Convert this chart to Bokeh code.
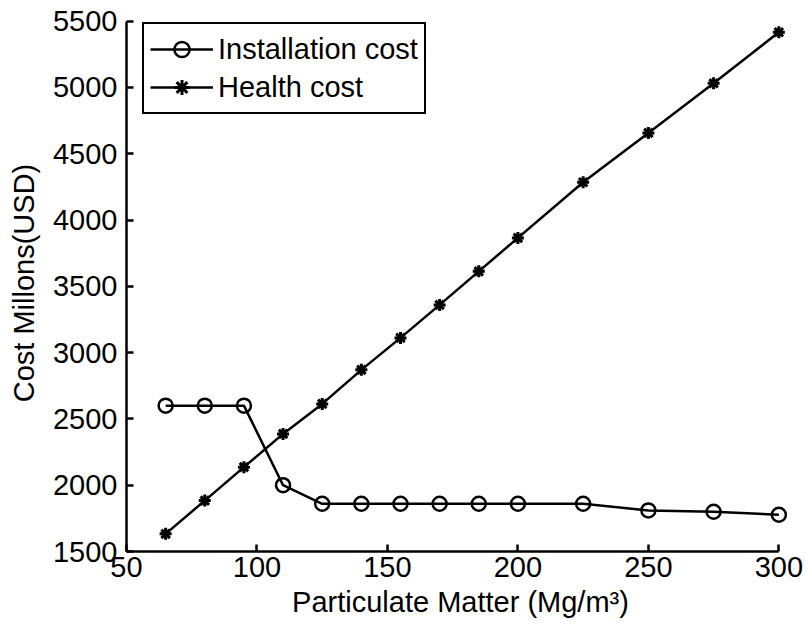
from bokeh.plotting import figure
from bokeh.models import Range1d, FixedTicker, Legend, LegendItem
from bokeh.embed import file_html
from bokeh.resources import INLINE

pm = [65, 80, 95, 110, 125, 140, 155, 170, 185, 200, 225, 250, 275, 300]
installation_cost = [2600, 2600, 2600, 2000, 1860, 1860, 1860, 1860, 1860, 1860, 1860, 1810, 1800, 1777]
health_cost = [1633, 1884, 2136, 2387, 2613, 2870, 3111, 3360, 3613, 3865, 4285, 4657, 5031, 5416]
x_ticks = [50, 100, 150, 200, 250, 300]
y_ticks = [1500, 2000, 2500, 3000, 3500, 4000, 4500, 5000, 5500]

FONT = "Liberation Sans"
FS = "29px"

p = figure(width=806, height=639, output_backend="svg", toolbar_location=None,
           x_range=Range1d(50, 306), y_range=Range1d(1500, 5550),
           min_border_left=126, min_border_right=12, min_border_top=14, min_border_bottom=88)
p.outline_line_color = None
p.xgrid.visible = False
p.ygrid.visible = False
p.background_fill_color = "white"
p.border_fill_color = "white"

for ax, ticks, lab in ((p.xaxis[0], x_ticks, "Particulate Matter (Mg/m\u00b3)"),
                       (p.yaxis[0], y_ticks, "Cost Millons(USD)")):
    ax.ticker = FixedTicker(ticks=ticks)
    ax.bounds = (ticks[0], ticks[-1])
    ax.axis_label = lab
    ax.axis_label_text_font = FONT
    ax.axis_label_text_font_size = FS
    ax.axis_label_text_font_style = "normal"
    ax.axis_label_text_color = "black"
    ax.major_label_text_font = FONT
    ax.major_label_text_font_size = FS
    ax.major_label_text_color = "black"
    ax.axis_line_width = 2.5
    ax.axis_line_color = "black"
    ax.major_tick_in = 7
    ax.major_tick_out = 0
    ax.major_tick_line_width = 2.5
    ax.major_tick_line_color = "black"
    ax.minor_tick_line_color = None

p.xaxis[0].major_label_standoff = 5
p.xaxis[0].axis_label_standoff = 6
p.yaxis[0].major_label_standoff = 9
p.yaxis[0].axis_label_standoff = 10

l1 = p.line(pm, installation_cost, line_color="black", line_width=2.5)
m1 = p.scatter(pm, installation_cost, marker="circle", size=14, fill_color=None,
               line_color="black", line_width=2.5)
l2 = p.line(pm, health_cost, line_color="black", line_width=2.5)
m2 = p.scatter(pm, health_cost, marker="asterisk", size=12, line_color="black", line_width=3)

legend = Legend(items=[LegendItem(label="Installation cost", renderers=[l1, m1]),
                       LegendItem(label="Health cost", renderers=[l2, m2])],
                location=(16, 437), orientation="vertical",
                label_text_font=FONT, label_text_font_size=FS, label_text_color="black",
                border_line_color="black", border_line_width=2.5, border_line_alpha=1,
                background_fill_color="white", background_fill_alpha=1,
                padding=6, spacing=0, margin=0,
                glyph_width=63, glyph_height=38, label_standoff=5, label_height=38)
p.add_layout(legend, "center")

open("out.html", "w").write(file_html(p, INLINE))
